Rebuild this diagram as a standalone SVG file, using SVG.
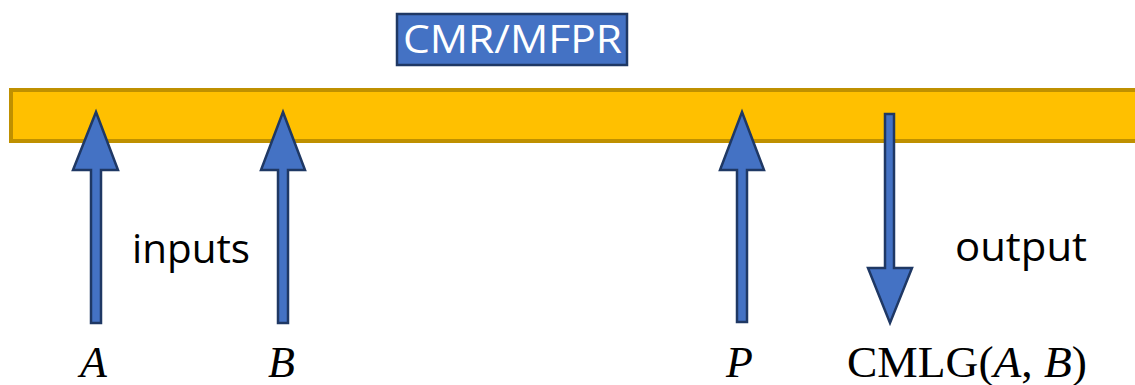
<svg xmlns="http://www.w3.org/2000/svg" width="1135" height="385" viewBox="0 0 1135 385">
  <style>
    .arrow { fill: #4472C4; stroke: #1F3864; stroke-width: 2.5; stroke-linejoin: miter; }
    .sans { font-family: "Open Sans", "Liberation Sans", sans-serif; font-size: 40px; fill: #000; }
    .math { font-family: "Liberation Serif", "DejaVu Serif", serif; font-size: 44px; fill: #000; }
    .it { font-style: italic; }
  </style>
  <rect width="1135" height="385" fill="#fff"/>

  <!-- process bar -->
  <g id="bar">
    <rect x="11" y="90" width="1140" height="51" fill="#FFC000" stroke="#BF9000" stroke-width="4"/>
  </g>

  <!-- title box -->
  <g id="title">
    <rect x="397" y="14" width="230" height="51" fill="#4472C4" stroke="#1F3864" stroke-width="2.5"/>
    <text x="403" y="53" font-family="Open Sans, Liberation Sans, sans-serif" font-size="39" fill="#fff" textLength="219" lengthAdjust="spacingAndGlyphs">CMR/MFPR</text>
  </g>

  <!-- arrows -->
  <g id="connectors">
    <polygon class="arrow" points="96,112 118,170 101,170 101,323 91,323 91,170 73,170"/>
    <polygon class="arrow" points="283,112 305,170 288,170 288,323 278,323 278,170 261,170"/>
    <polygon class="arrow" points="742,112 764,170 747,170 747,322 737,322 737,170 720,170"/>
    <polygon class="arrow" points="885,114 894,114 894,268 912,268 890,323 868,268 885,268"/>
  </g>

  <g id="label-inputs">
    <text class="sans" x="132" y="263" textLength="118" lengthAdjust="spacingAndGlyphs">inputs</text>
  </g>
  <g id="label-output">
    <text class="sans" x="955" y="261" textLength="132" lengthAdjust="spacingAndGlyphs">output</text>
  </g>

  <g id="var-A">
    <text class="math it" x="80" y="377">A</text>
  </g>
  <g id="var-B">
    <text class="math it" x="268" y="377">B</text>
  </g>
  <g id="var-P">
    <text class="math it" x="726" y="377">P</text>
  </g>
  <g id="result">
    <text class="math" x="847" y="377" textLength="240" lengthAdjust="spacingAndGlyphs">CMLG(<tspan class="it">A</tspan>,<tspan class="it"> B</tspan>)</text>
  </g>
</svg>
